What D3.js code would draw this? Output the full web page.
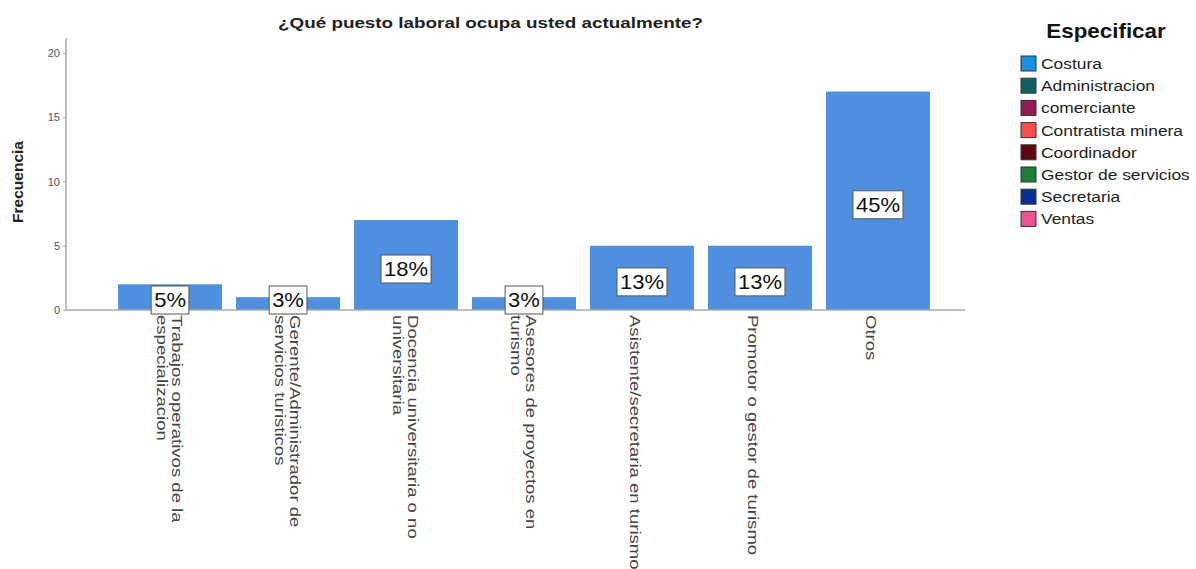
<!DOCTYPE html>
<html>
<head>
<meta charset="utf-8">
<script src="https://cdn.jsdelivr.net/npm/d3@7"></script>
<style>
  body { margin: 0; background: #fff; }
  svg { font-family: "Liberation Sans", Arial, sans-serif; }
</style>
</head>
<body>
<svg id="chart" width="1196" height="569"></svg>
<script>
const title = "¿Qué puesto laboral ocupa usted actualmente?";
const yTitle = "Frecuencia";
const categories = [
  ["Trabajos operativos de la", "especializacion"],
  ["Gerente/Administrador de", "servicios turisticos"],
  ["Docencia universitaria o no", "universitaria"],
  ["Asesores de proyectos en", "turismo"],
  ["Asistente/secretaria en turismo"],
  ["Promotor o gestor de turismo"],
  ["Otros"]
];
const values = [2, 1, 7, 1, 5, 5, 17];
const percentLabels = ["5%", "3%", "18%", "3%", "13%", "13%", "45%"];
const yTicks = [0, 5, 10, 15, 20];
const legendTitle = "Especificar";
const legendNames = ["Costura", "Administracion", "comerciante", "Contratista minera", "Coordinador", "Gestor de servicios", "Secretaria", "Ventas"];
const legendColors = ["#1a8fe8", "#12615f", "#8f1a55", "#f94f51", "#5b0610", "#1e7d3b", "#0a2f96", "#ea5493"];
const barColor = "#4e8fe0";

const svg = d3.select("#chart");

const x = d3.scaleBand()
  .domain(d3.range(categories.length))
  .range([111, 937])
  .paddingInner(0.119)
  .paddingOuter(0.06);

const y = d3.scaleLinear().domain([0, 20]).range([310, 53]);

// Title
svg.append("text")
  .attr("x", 278).attr("y", 28)
  .attr("font-size", 15.5).attr("font-weight", "bold")
  .attr("fill", "#222")
  .attr("textLength", 425).attr("lengthAdjust", "spacingAndGlyphs")
  .text(title);

// Y axis title
svg.append("text")
  .attr("transform", "translate(23,182) rotate(-90)")
  .attr("text-anchor", "middle")
  .attr("font-size", 15.5).attr("font-weight", "bold")
  .attr("fill", "#222")
  .text(yTitle);

// Y axis
const yAxis = d3.axisLeft(y).tickValues(yTicks).tickSize(3).tickPadding(3);
const gy = svg.append("g").attr("transform", "translate(66,0)").call(yAxis);
gy.select(".domain").remove();
gy.selectAll(".tick line").attr("stroke", "#aaa");
gy.selectAll(".tick text").attr("fill", "#555").attr("font-size", 11);
svg.append("line")
  .attr("x1", 66).attr("x2", 66).attr("y1", 38).attr("y2", y(0))
  .attr("stroke", "#aaa").attr("stroke-width", 1.5);

// Bars
svg.append("g").selectAll("rect")
  .data(values)
  .join("rect")
  .attr("x", (d, i) => x(i))
  .attr("width", x.bandwidth())
  .attr("y", d => y(d))
  .attr("height", d => y(0) - y(d))
  .attr("fill", barColor);

// X axis baseline
svg.append("line")
  .attr("x1", 66).attr("x2", 965).attr("y1", y(0)).attr("y2", y(0))
  .attr("stroke", "#aaa").attr("stroke-width", 1.5);

// Percentage labels
const lbl = svg.append("g").selectAll("g")
  .data(values)
  .join("g")
  .attr("transform", (d, i) => {
    const cy = Math.min(y(d / 2) + 4, y(0) - 10);
    return `translate(${x(i) + x.bandwidth() / 2},${cy})`;
  });
lbl.each(function(d, i) {
  const g = d3.select(this);
  const t = g.append("text")
    .attr("text-anchor", "middle")
    .attr("dy", "0.36em")
    .attr("font-size", 20)
    .attr("fill", "#111")
    .attr("transform", "scale(1.1,1)")
    .text(percentLabels[i]);
  const w = t.node().getComputedTextLength() * 1.1;
  g.insert("rect", "text")
    .attr("x", -w / 2 - 3).attr("y", -14)
    .attr("width", w + 6).attr("height", 28)
    .attr("fill", "#fff").attr("stroke", "#555").attr("stroke-width", 1);
});

// X category labels (rotated)
const xl = svg.append("g").selectAll("text")
  .data(categories)
  .join("text")
  .attr("font-size", 14.5)
  .attr("fill", "#444")
  .attr("transform", (d, i) => {
    const cx = x(i) + x.bandwidth() / 2 - 12 + (d.length - 1) * 14;
    return `translate(${cx},315) rotate(90) scale(1.28,1)`;
  });
xl.each(function(lines) {
  const t = d3.select(this);
  lines.forEach((ln, k) => {
    t.append("tspan").attr("x", 0).attr("dy", k === 0 ? 0 : 15).text(ln);
  });
});

// Legend
svg.append("text")
  .attr("transform", "translate(1106,38) scale(1.12,1)")
  .attr("text-anchor", "middle")
  .attr("font-size", 20).attr("font-weight", "bold")
  .attr("fill", "#111")
  .text(legendTitle);
const lg = svg.append("g").selectAll("g")
  .data(legendNames)
  .join("g")
  .attr("transform", (d, i) => `translate(1021,${56 + i * 22.2})`);
lg.append("rect")
  .attr("width", 15).attr("height", 15)
  .attr("fill", (d, i) => legendColors[i])
  .attr("stroke", "#333").attr("stroke-width", 1);
lg.append("text")
  .attr("transform", "translate(20,13) scale(1.2,1)")
  .attr("font-size", 14.5)
  .attr("fill", "#222")
  .text(d => d);
</script>
</body>
</html>
